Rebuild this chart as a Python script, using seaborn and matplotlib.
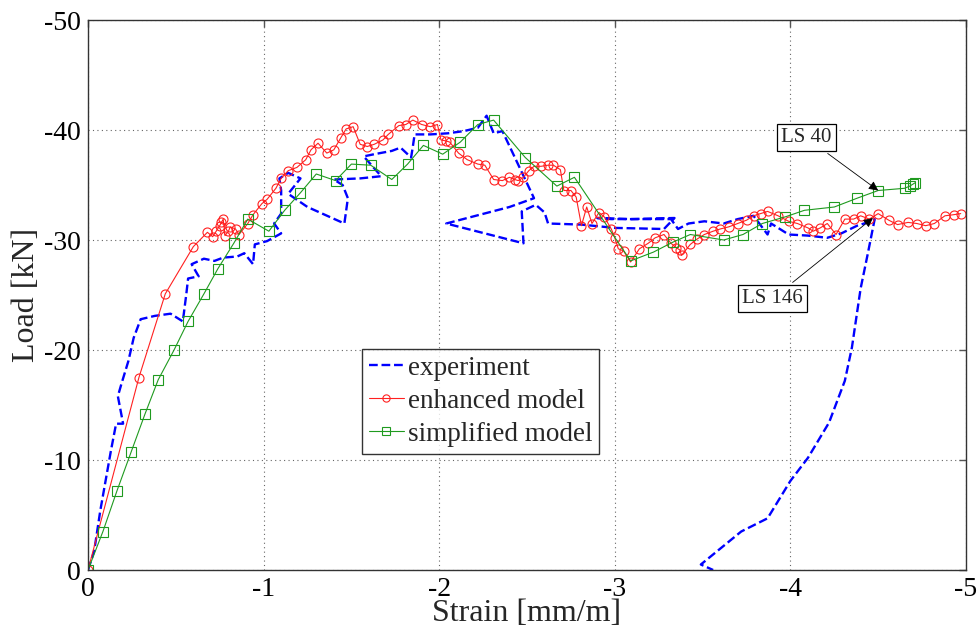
import matplotlib
matplotlib.use("Agg")
import matplotlib.pyplot as plt
import seaborn as sns
import pandas as pd

# ---------------- data (strain [mm/m], load [kN]) ----------------
exp_strain = [0, -0.035, -0.07, -0.10, -0.13, -0.16, -0.20, -0.17, -0.19, -0.23, -0.26, -0.30,
              -0.38, -0.47, -0.50, -0.54, -0.56, -0.57, -0.63, -0.59, -0.66, -0.72, -0.77, -0.85,
              -0.89, -0.94, -0.95, -1.02, -1.10, -1.06, -1.10, -1.10, -1.09, -1.14, -1.21, -1.14,
              -1.25, -1.46, -1.48, -1.45, -1.40, -1.55, -1.67, -1.57, -1.63, -1.73, -1.78, -1.84,
              -1.85, -1.86, -1.95, -2.05, -2.14, -2.22, -2.27, -2.31, -2.36, -2.54, -2.40, -2.04,
              -2.48, -2.47, -2.55, -2.60, -2.62, -2.81, -3.00, -3.28, -3.34, -3.09, -2.90, -2.98,
              -3.19, -3.32, -3.36, -3.42, -3.51, -3.62, -3.70, -3.79, -3.87, -3.89, -3.99, -4.10,
              -4.21, -4.29, -4.38, -4.46, -4.48, -4.44, -4.40, -4.35, -4.31, -4.22, -4.10, -4.00,
              -3.87, -3.72, -3.49, -3.56]
exp_load = [0, -1.7, -5.4, -8.1, -10.8, -13.3, -13.3, -15.8, -16.9, -19.0, -21.1, -22.8,
            -23.1, -23.3, -23.0, -22.6, -25.1, -26.5, -26.7, -27.8, -28.3, -28.1, -28.4, -28.5,
            -28.8, -27.8, -29.6, -29.9, -30.6, -31.5, -32.4, -34.5, -35.6, -36.1, -35.6, -34.2,
            -33.0, -31.5, -33.8, -35.0, -35.5, -35.6, -35.8, -37.6, -37.8, -38.1, -38.4, -37.5,
            -38.5, -39.6, -39.6, -39.7, -39.9, -40.2, -41.3, -39.7, -39.9, -33.8, -33.0, -31.5,
            -29.7, -32.6, -33.2, -32.5, -31.5, -31.4, -31.1, -31.0, -32.0, -31.9, -32.0, -31.9,
            -31.9, -31.9, -31.0, -31.5, -31.7, -31.5, -31.9, -32.2, -30.5, -31.5, -30.5, -30.4,
            -30.2, -30.6, -31.3, -31.7, -31.9, -28.7, -25.6, -20.2, -17.2, -13.4, -10.2, -8.1,
            -4.7, -3.5, -0.5, 0.0]

enh_strain = [0, -0.29, -0.44, -0.60, -0.68, -0.71, -0.73, -0.75, -0.76, -0.77, -0.78, -0.80,
              -0.81, -0.84, -0.86, -0.91, -0.94, -0.99, -1.02, -1.07, -1.10, -1.14, -1.19, -1.24,
              -1.27, -1.31, -1.36, -1.40, -1.44, -1.47, -1.51, -1.55, -1.59, -1.63, -1.68, -1.71,
              -1.77, -1.81, -1.85, -1.90, -1.95, -1.99, -2.01, -2.04, -2.06, -2.11, -2.16, -2.22,
              -2.26, -2.31, -2.36, -2.40, -2.43, -2.45, -2.48, -2.51, -2.54, -2.58, -2.62, -2.65,
              -2.69, -2.71, -2.75, -2.78, -2.81, -2.84, -2.87, -2.91, -2.94, -2.98, -3.00, -3.02,
              -3.05, -3.09, -3.14, -3.19, -3.23, -3.28, -3.32, -3.35, -3.37, -3.38, -3.43, -3.47,
              -3.51, -3.56, -3.60, -3.65, -3.70, -3.75, -3.79, -3.83, -3.87, -3.93, -3.99, -4.04,
              -4.10, -4.13, -4.17, -4.21, -4.26, -4.31, -4.36, -4.40, -4.45, -4.50, -4.56, -4.61,
              -4.67, -4.72, -4.77, -4.82, -4.88, -4.93, -4.97]
enh_load = [0, -17.5, -25.1, -29.4, -30.7, -30.3, -30.8, -31.3, -31.6, -31.9, -30.4, -30.8,
            -31.2, -31.0, -30.5, -31.5, -32.3, -33.3, -33.7, -34.7, -35.6, -36.3, -36.6, -37.3,
            -38.2, -38.8, -37.9, -38.2, -39.3, -40.1, -40.3, -38.7, -38.5, -38.7, -39.1, -39.6,
            -40.4, -40.5, -40.9, -40.5, -40.3, -40.5, -39.1, -39.0, -38.9, -37.9, -37.3, -36.9,
            -36.8, -35.5, -35.4, -35.7, -35.5, -35.4, -35.7, -36.3, -36.7, -36.7, -36.8, -36.8,
            -36.4, -34.5, -34.5, -33.9, -31.3, -33.0, -31.5, -32.5, -32.1, -31.0, -30.2, -29.2,
            -29.0, -28.0, -29.2, -29.7, -30.2, -30.5, -29.7, -29.3, -29.1, -28.6, -29.6, -30.1,
            -30.5, -30.8, -31.0, -31.2, -31.5, -31.8, -32.2, -32.4, -32.6, -32.2, -31.7, -31.5,
            -31.1, -30.8, -31.1, -31.5, -30.5, -31.9, -31.9, -32.2, -31.9, -32.4, -31.8, -31.4,
            -31.6, -31.5, -31.3, -31.5, -32.2, -32.3, -32.4]

simp_strain = [0, -0.085, -0.165, -0.245, -0.325, -0.40, -0.49, -0.57, -0.66, -0.74, -0.83,
               -0.91, -1.03, -1.12, -1.21, -1.30, -1.41, -1.50, -1.61, -1.73, -1.82, -1.91,
               -2.02, -2.12, -2.22, -2.31, -2.49, -2.67, -2.77, -3.09, -3.22, -3.33, -3.43,
               -3.62, -3.73, -3.84, -3.97, -4.08, -4.25, -4.38, -4.50, -4.65, -4.68, -4.70, -4.71]
simp_load = [0, -3.5, -7.2, -10.7, -14.2, -17.3, -20.0, -22.6, -25.1, -27.4, -29.7,
             -31.9, -30.8, -32.7, -34.3, -36.0, -35.4, -36.9, -36.8, -35.5, -36.9, -38.6,
             -37.8, -38.9, -40.5, -40.9, -37.5, -34.9, -35.7, -28.1, -28.9, -29.8, -30.5,
             -30.0, -30.5, -31.5, -32.1, -32.7, -33.0, -33.8, -34.5, -34.7, -34.9, -35.1, -35.2]

series_labels = ["experiment", "enhanced model", "simplified model"]
x_ticks = [0, -1, -2, -3, -4, -5]
y_ticks = [0, -10, -20, -30, -40, -50]
annotations = [("LS 40", -4.50, -34.5, -4.09, -39.3),
               ("LS 146", -4.47, -32.0, -3.90, -24.7)]

# ---------------- figure ----------------
sns.set_style("white")
plt.rcParams["font.family"] = ["Liberation Serif", "DejaVu Serif"]

fig = plt.figure(figsize=(9.77, 6.42), dpi=100)
ax = fig.add_axes([88 / 977, 1 - 570 / 642, 878 / 977, 550 / 642])

df_exp = pd.DataFrame({"strain": exp_strain, "load": exp_load})
df_enh = pd.DataFrame({"strain": enh_strain, "load": enh_load})
df_simp = pd.DataFrame({"strain": simp_strain, "load": simp_load})

sns.lineplot(data=df_exp, x="strain", y="load", sort=False, estimator=None, ax=ax,
             color="#0000ff", linewidth=1.7, linestyle="--", label=series_labels[0])
sns.lineplot(data=df_enh, x="strain", y="load", sort=False, estimator=None, ax=ax,
             color="#ff2020", linewidth=0.8, marker="o", markersize=6.5,
             markerfacecolor="none", markeredgecolor="#ff2020", markeredgewidth=0.8,
             label=series_labels[1])
sns.lineplot(data=df_simp, x="strain", y="load", sort=False, estimator=None, ax=ax,
             color="#1f9a1f", linewidth=0.8, marker="s", markersize=6.5,
             markerfacecolor="none", markeredgecolor="#1f9a1f", markeredgewidth=0.8,
             label=series_labels[2])

ax.set_xlim(0, -5)
ax.set_ylim(0, -50)
ax.set_xticks(x_ticks)
ax.set_yticks(y_ticks)
ax.set_xticklabels([str(t) for t in x_ticks])
ax.set_yticklabels([str(t) for t in y_ticks])
ax.tick_params(direction="in", length=5, width=1, top=True, right=True,
               labelsize=20, colors="#555555", labelcolor="black", pad=5)
ax.grid(True, linestyle=(0, (1, 3)), color="#666666", linewidth=0.8)
for s in ax.spines.values():
    s.set_color("#333333")
    s.set_linewidth(1.0)

ax.set_xlabel("Strain [mm/m]", fontsize=23, labelpad=-2)
ax.set_ylabel("Load [kN]", fontsize=23, labelpad=2)

for text, xd, yd, xt, yt in annotations:
    ax.annotate(text, xy=(xd, yd), xytext=(xt, yt), textcoords="data",
                ha="center", va="center", fontsize=15,
                bbox=dict(boxstyle="square,pad=0.2", fc="white", ec="black", lw=0.9),
                arrowprops=dict(arrowstyle="-|>", color="black", lw=0.6,
                                mutation_scale=14, shrinkB=0))

leg = ax.legend(loc="upper left", bbox_to_anchor=(0.312, 0.402), borderaxespad=0,
                fontsize=19.5, frameon=True, fancybox=False, handlelength=1.3,
                handletextpad=0.15, labelspacing=0.3, borderpad=0.25, markerscale=0.8)
leg.get_frame().set_edgecolor("black")
leg.get_frame().set_linewidth(1.0)

fig.savefig("out.png", dpi=100, facecolor="white")
